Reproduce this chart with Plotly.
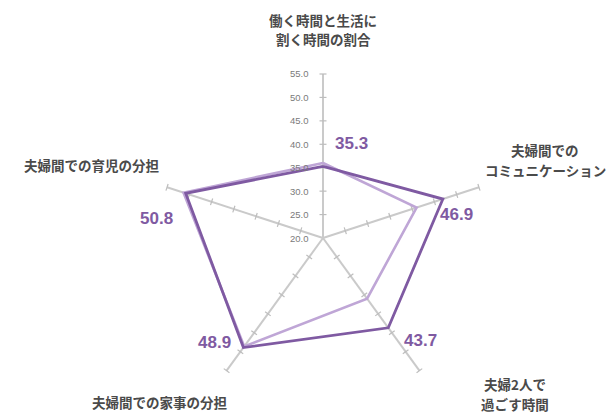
import plotly.graph_objects as go

# Five evaluation axes, clockwise from the top
categories = [
    "働く時間と生活に<br>割く時間の割合",
    "夫婦間での<br>コミュニケーション",
    "夫婦2人で<br>過ごす時間",
    "夫婦間での家事の分担",
    "夫婦間での育児の分担",
]
series_main = [35.3, 46.9, 43.7, 48.9, 50.8]   # labelled series (dark)
series_sub = [36.0, 41.0, 36.0, 48.6, 51.3]    # comparison series (light)
radial_ticks = [20, 25, 30, 35, 40, 45, 50, 55]

DARK = "#7f5aa2"
LIGHT = "#bfa6d6"
SPOKE = "#cacaca"
TEXT = "#4a4a4a"
FONT = "Noto Sans CJK JP"

W, H = 608, 415
CX, CY, R = 323, 238, 164  # polar centre and radius in pixels

fig = go.Figure()

# Small cross ticks along every spoke
tick_r, tick_t, tick_a = [], [], []
for k, cat in enumerate(categories):
    for v in radial_ticks[1:]:
        tick_r.append(v)
        tick_t.append(cat)
        tick_a.append(72 * k)
fig.add_trace(go.Scatterpolar(
    r=tick_r, theta=tick_t, mode="markers",
    marker=dict(symbol="line-ew", size=5, angle=tick_a,
                line=dict(color="#bdbdbd", width=1.2)),
    hoverinfo="skip", showlegend=False,
))

fig.add_trace(go.Scatterpolar(
    r=series_sub + series_sub[:1], theta=categories + categories[:1],
    mode="lines", line=dict(color=LIGHT, width=2.6),
    showlegend=False,
))
fig.add_trace(go.Scatterpolar(
    r=series_main + series_main[:1], theta=categories + categories[:1],
    mode="lines", line=dict(color=DARK, width=2.8),
    showlegend=False,
))

fig.update_layout(
    width=W, height=H,
    margin=dict(l=0, r=0, t=0, b=0),
    paper_bgcolor="white",
    showlegend=False,
    polar=dict(
        domain=dict(x=[(CX - R) / W, (CX + R) / W],
                    y=[(H - CY - R) / H, (H - CY + R) / H]),
        bgcolor="white",
        radialaxis=dict(
            range=[20, 55], tickvals=[], showticklabels=False,
            angle=90, showgrid=False, showline=False, ticks="",
        ),
        angularaxis=dict(
            type="category", categoryarray=categories,
            rotation=90, direction="clockwise",
            showgrid=True, gridcolor=SPOKE, gridwidth=1.5,
            showline=False, ticks="", showticklabels=False,
        ),
    ),
)

def px(x, y):
    return x / W, 1 - y / H

# Radial scale labels, placed to the left of the top spoke
for v in radial_ticks:
    y = CY - (v - radial_ticks[0]) / (radial_ticks[-1] - radial_ticks[0]) * R
    ax_, ay_ = px(CX - 12, y)
    fig.add_annotation(x=ax_, y=ay_, xref="paper", yref="paper",
                       text=f"{v:.1f}", showarrow=False,
                       font=dict(family="Arial", size=9.5, color="#7a7a7a"),
                       xanchor="right", yanchor="middle")

# Axis titles, one annotation per line for tighter control of line spacing
title_pos = [(323, 20), (545, 150), (515, 384), (160, 402), (92, 165)]
LINE_GAP = 19.5
for cat, (x, y) in zip(categories, title_pos):
    for i, line in enumerate(cat.split("<br>")):
        ax_, ay_ = px(x, y + i * LINE_GAP)
        fig.add_annotation(x=ax_, y=ay_, xref="paper", yref="paper",
                           text=f"<b>{line}</b>", showarrow=False,
                           font=dict(family=FONT, size=13.5, color=TEXT),
                           xanchor="center", yanchor="middle")

# Value labels for the dark series
value_pos = [(351, 143), (456, 214), (420, 340), (214, 342), (156, 218)]
for v, (x, y) in zip(series_main, value_pos):
    ax_, ay_ = px(x, y)
    fig.add_annotation(x=ax_, y=ay_, xref="paper", yref="paper",
                       text=f"<b>{v:.1f}</b>", showarrow=False,
                       font=dict(family="Arial", size=17, color=DARK),
                       xanchor="center", yanchor="middle")

fig.write_html("out.html")
